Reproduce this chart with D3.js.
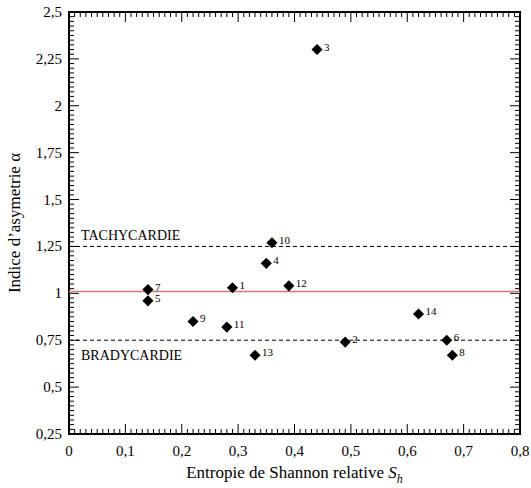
<!DOCTYPE html>
<html>
<head>
    <meta charset="utf-8">
    <script src="https://d3js.org/d3.v7.min.js"></script>
    <style>
        body { margin: 0; background: #fff; }
        svg text { font-family: "Liberation Serif", "Times New Roman", serif; }
    </style>
</head>
<body>
<script>
// data
var patients = ["1", "2", "3", "4", "5", "6", "7", "8", "9", "10", "11", "12", "13", "14"];
var entropy  = [0.29, 0.49, 0.44, 0.35, 0.14, 0.67, 0.14, 0.68, 0.22, 0.36, 0.28, 0.39, 0.33, 0.62];
var alpha    = [1.03, 0.74, 2.30, 1.16, 0.96, 0.75, 1.02, 0.67, 0.85, 1.27, 0.82, 1.04, 0.67, 0.89];
var xTicks = [0, 0.1, 0.2, 0.3, 0.4, 0.5, 0.6, 0.7, 0.8];
var yTicks = [0.25, 0.5, 0.75, 1, 1.25, 1.5, 1.75, 2, 2.25, 2.5];
var refLine = 1.01;
var tachyLevel = 1.25, bradyLevel = 0.75;

var W = 531, H = 488;
var plotL = 69, plotR = 520, plotT = 12, plotB = 434;
var FONT = "'Liberation Serif', 'Times New Roman', serif";

var fmt = function (d) { return String(d).replace(".", ","); };

var x = d3.scaleLinear().domain([0, 0.8]).range([plotL, plotR]);
var y = d3.scaleLinear().domain([0.25, 2.5]).range([plotB, plotT]);

var svg = d3.select("body").append("svg")
    .attr("width", W).attr("height", H)
    .attr("font-family", FONT);

// minor ticks every 0.01 / 0.025, major every 0.1 / 0.25, all inward
var xMinor = d3.range(0, 81).map(function (i) { return i / 100; });
var yMinor = d3.range(0, 91).map(function (i) { return 0.25 + i * 0.025; });

var tickG = svg.append("g").attr("stroke", "#000").attr("stroke-width", 1);
[plotB, plotT].forEach(function (edge) {
    var dir = edge === plotB ? -1 : 1;
    tickG.selectAll(null).data(xMinor).enter().append("line")
        .attr("x1", function (d) { return x(d); })
        .attr("x2", function (d) { return x(d); })
        .attr("y1", edge)
        .attr("y2", function (d, i) { return edge + dir * (i % 10 === 0 ? 10 : 5); });
});
[plotL, plotR].forEach(function (edge) {
    var dir = edge === plotL ? 1 : -1;
    tickG.selectAll(null).data(yMinor).enter().append("line")
        .attr("y1", function (d) { return y(d); })
        .attr("y2", function (d) { return y(d); })
        .attr("x1", edge)
        .attr("x2", function (d, i) { return edge + dir * (i % 10 === 0 ? 10 : 5); });
});

// tick labels
svg.selectAll(".xlab").data(xTicks).enter().append("text")
    .attr("class", "xlab")
    .attr("x", function (d) { return x(d); })
    .attr("y", plotB + 22)
    .attr("text-anchor", "middle")
    .attr("font-family", FONT).attr("font-size", 15)
    .text(fmt);
svg.selectAll(".ylab").data(yTicks).enter().append("text")
    .attr("class", "ylab")
    .attr("x", plotL - 7)
    .attr("y", function (d) { return y(d) + 5; })
    .attr("text-anchor", "end")
    .attr("font-family", FONT).attr("font-size", 15)
    .text(fmt);

// frame
svg.append("rect")
    .attr("x", plotL).attr("y", plotT)
    .attr("width", plotR - plotL).attr("height", plotB - plotT)
    .attr("fill", "none").attr("stroke", "#000").attr("stroke-width", 2);

// reference lines
svg.append("line")
    .attr("x1", plotL).attr("x2", plotR)
    .attr("y1", y(refLine)).attr("y2", y(refLine))
    .attr("stroke", "#cc7a7a").attr("stroke-width", 1.5);

[tachyLevel, bradyLevel].forEach(function (v) {
    svg.append("line")
        .attr("x1", plotL).attr("x2", plotR)
        .attr("y1", y(v)).attr("y2", y(v))
        .attr("stroke", "#000").attr("stroke-width", 1)
        .attr("stroke-dasharray", "4,3");
});

svg.append("text")
    .attr("x", plotL + 12).attr("y", y(tachyLevel) - 6)
    .attr("font-family", FONT).attr("font-size", 14)
    .text("TACHYCARDIE");
svg.append("text")
    .attr("x", plotL + 12).attr("y", y(bradyLevel) + 20)
    .attr("font-family", FONT).attr("font-size", 14)
    .text("BRADYCARDIE");

// points
var pts = patients.map(function (p, i) { return { id: p, sx: entropy[i], a: alpha[i] }; });
var sq = d3.symbol().type(d3.symbolSquare).size(62);

svg.selectAll(".pt").data(pts).enter().append("path")
    .attr("class", "pt")
    .attr("d", sq)
    .attr("fill", "#000")
    .attr("transform", function (d) { return "translate(" + x(d.sx) + "," + y(d.a) + ") rotate(45)"; });

svg.selectAll(".lbl").data(pts).enter().append("text")
    .attr("class", "lbl")
    .attr("x", function (d) { return x(d.sx) + 7; })
    .attr("y", function (d) { return y(d.a) + 1; })
    .attr("font-family", FONT).attr("font-size", 11)
    .text(function (d) { return d.id; });

// axis titles
var xt = svg.append("text")
    .attr("x", (plotL + plotR) / 2).attr("y", plotB + 44)
    .attr("text-anchor", "middle")
    .attr("font-family", FONT).attr("font-size", 17);
xt.append("tspan").text("Entropie de Shannon relative ");
xt.append("tspan").attr("font-style", "italic").text("S");
xt.append("tspan").attr("font-style", "italic").attr("font-size", 12).attr("dy", 5).text("h");

svg.append("text")
    .attr("transform", "translate(20," + ((plotT + plotB) / 2) + ") rotate(-90)")
    .attr("text-anchor", "middle")
    .attr("font-family", FONT).attr("font-size", 17)
    .text("Indice d\u2019asymetrie \u03b1");
</script>
</body>
</html>
